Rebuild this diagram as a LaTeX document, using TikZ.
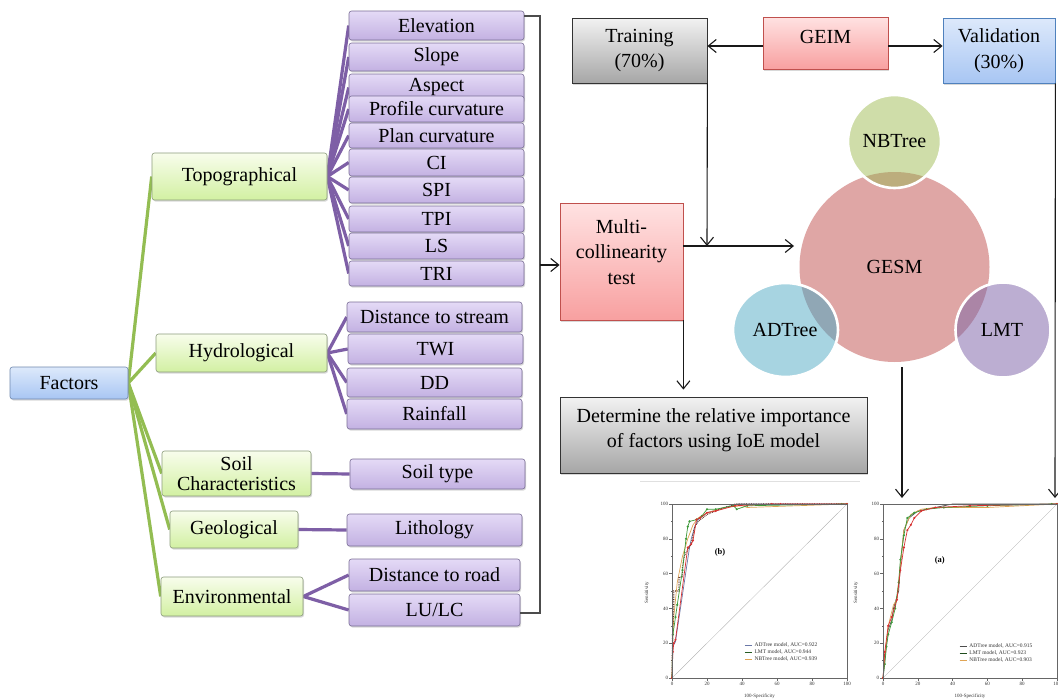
\documentclass[tikz,border=0pt]{standalone}
\usepackage{fontspec}
\setmainfont{Liberation Serif}
\usetikzlibrary{arrows.meta,shadows,calc,shapes.geometric}
\pgfdeclarelayer{bg}
\pgfsetlayers{bg,main}
\definecolor{ptop}{HTML}{E4DAF6}
\definecolor{pbot}{HTML}{C3B1E2}
\definecolor{pbord}{HTML}{7A6E96}
\definecolor{gtop}{HTML}{F8FDEC}
\definecolor{gbot}{HTML}{D2F0A2}
\definecolor{gbord}{HTML}{8C9C7C}
\definecolor{btop}{HTML}{DDE9FB}
\definecolor{bbot}{HTML}{A8C6F3}
\definecolor{bbord}{HTML}{6F88AE}
\definecolor{gline}{HTML}{93BD52}
\definecolor{pline}{HTML}{7E5FA6}
\definecolor{rtop}{HTML}{FFE2E2}
\definecolor{rbot}{HTML}{F8A0A0}
\definecolor{rbord}{HTML}{C0504D}
\definecolor{ktop}{HTML}{F2F2F2}
\definecolor{kbot}{HTML}{A6A6A6}
\definecolor{vbord}{HTML}{4F81BD}
\definecolor{gesmc}{HTML}{DFA6A5}
\definecolor{nbc}{HTML}{CFDDA9}
\definecolor{adc}{HTML}{A7D4E1}
\definecolor{lmtc}{HTML}{BCAED2}
\definecolor{nbov}{HTML}{BCAD7D}
\definecolor{adov}{HTML}{90A7B5}
\definecolor{lmov}{HTML}{AB85A6}
\definecolor{cblue}{HTML}{6A78A8}
\definecolor{cgreen}{HTML}{3E9A3A}
\definecolor{corange}{HTML}{E0A555}
\definecolor{cbrown}{HTML}{5A2A1A}
\definecolor{cred}{HTML}{D83030}
\newcommand{\myfs}{\fontsize{20}{22}\selectfont}
\newcommand{\myfsb}{\fontsize{20}{25.5}\selectfont}
\begin{document}
\begin{tikzpicture}[x=1pt,y=-1pt,
  shad/.style={drop shadow={shadow xshift=1pt, shadow yshift=-1.5pt, opacity=0.3}},
  pbox/.style={rectangle, rounded corners=2.5pt, draw=pbord, line width=0.6pt, top color=ptop, bottom color=pbot, inner sep=0pt, minimum width=175pt, font=\myfs, shad},
  gbox/.style={pbox, draw=gbord, top color=gtop, bottom color=gbot, align=center},
  fbox/.style={pbox, draw=bbord, top color=btop, bottom color=bbot, minimum width=118pt, minimum height=32pt},
  rbox/.style={rectangle, draw=rbord, line width=0.8pt, top color=rtop, bottom color=rbot, inner sep=0pt, shad},
  kbox/.style={rectangle, draw=black!80, line width=0.8pt, top color=ktop, bottom color=kbot, inner sep=0pt, font=\myfsb, align=center, shad},
  vbox/.style={rectangle, draw=vbord, line width=0.8pt, top color=btop, bottom color=bbot, inner sep=0pt, font=\myfsb, align=center, shad},
  gl/.style={gline, line width=3.2pt},
  pl/.style={pline, line width=3.2pt},
  arr/.style={-{Straight Barb[length=8pt,width=13pt]}, line width=1.1pt, draw=black!90},
  brk/.style={line width=1.1pt, draw=black!70},
  frame/.style={draw=black!60, line width=0.6pt},
  cv/.style={line width=0.7pt},
  tick/.style={font=\fontsize{5}{6}\selectfont, inner sep=1pt, text=black!80}
]
\begin{pgfonlayer}{bg}
\fill[white] (0,0) rectangle (1058,699);
\end{pgfonlayer}
\useasboundingbox (0,0) rectangle (1058,699);

% ---------- left tree ----------
\node[fbox] (factors) at (69,383) {Factors};
\node[gbox, minimum width=175pt, minimum height=47pt] (topo) at (239.5,176.5) {Topographical};
\node[gbox, minimum width=171pt, minimum height=38pt] (hydro) at (241.5,353) {Hydrological};
\node[gbox, minimum width=149pt, minimum height=45pt, font=\fontsize{20}{20.5}\selectfont] (soil) at (236.5,473.5) {Soil\\Characteristics};
\node[gbox, minimum width=128pt, minimum height=37pt] (geo) at (234,529.5) {Geological};
\node[gbox, minimum width=142pt, minimum height=39pt] (env) at (232,596.5) {Environmental};

\node[pbox, minimum height=29pt] (elev) at (436.5,25.5) {Elevation};
\node[pbox, minimum height=28pt] (slope) at (436.5,57) {Slope};
\node[pbox, minimum height=27pt] (aspect) at (436.5,87.5) {Aspect};
\node[pbox, minimum height=26pt] (profile) at (436.5,109) {Profile curvature};
\node[pbox, minimum height=25pt] (plan) at (436.5,135.5) {Plan curvature};
\node[pbox, minimum height=27pt] (ci) at (436.5,162.5) {CI};
\node[pbox, minimum height=26pt] (spi) at (436.5,190) {SPI};
\node[pbox, minimum height=26pt] (tpi) at (436.5,219) {TPI};
\node[pbox, minimum height=26pt] (ls) at (436.5,246) {LS};
\node[pbox, minimum height=25pt] (tri) at (436.5,273.5) {TRI};
\node[pbox, minimum height=30pt] (dstream) at (434.5,317) {Distance to stream};
\node[pbox, minimum height=30pt] (twi) at (435.5,349) {TWI};
\node[pbox, minimum height=29pt] (dd) at (434.5,382.5) {DD};
\node[pbox, minimum height=30pt] (rain) at (434.5,414) {Rainfall};
\node[pbox, minimum height=30pt] (soiltype) at (437.5,474) {Soil type};
\node[pbox, minimum height=32pt] (litho) at (434.5,530) {Lithology};
\node[pbox, minimum width=171pt, minimum height=32pt] (droad) at (434.5,575) {Distance to road};
\node[pbox, minimum width=171pt, minimum height=32pt] (lulc) at (434.5,610) {LU/LC};

\begin{pgfonlayer}{bg}
  \foreach \t in {topo,hydro,soil,geo,env} \draw[gl] (factors.east) -- (\t.west);
  \foreach \t in {elev,slope,aspect,profile,plan,ci,spi,tpi,ls,tri} \draw[pl] (topo.east) -- (\t.west);
  \foreach \t in {dstream,twi,dd,rain} \draw[pl] (hydro.east) -- (\t.west);
  \draw[pl] (soil.east) -- (soiltype.west);
  \draw[pl] (geo.east) -- (litho.west);
  \draw[pl] (env.east) -- (droad.west);
  \draw[pl] (env.east) -- (lulc.west);
\end{pgfonlayer}

% ---------- right part ----------
\node[kbox, minimum width=135pt, minimum height=65pt] (training) at (639.5,50.5) {Training\\(70\%)};
\node[rbox, minimum width=125pt, minimum height=52pt] (geim) at (825.5,43) {};
\node[font=\myfs] (geimt) at (825.5,37) {GEIM};
\node[vbox, minimum width=112pt, minimum height=65pt] (valid) at (999,50.5) {Validation\\(30\%)};
\node[rbox, minimum width=123pt, minimum height=117pt] (multi) at (621.5,261.5) {};
\node[font=\myfsb, align=center] (multit) at (621.5,252) {Multi-\\collinearity\\test};
\node[kbox, minimum width=307pt, minimum height=76pt] (det) at (713.5,435) {};
\node[font=\myfsb, align=center] (dett) at (713.5,430) {Determine the relative importance\\of factors using IoE model};

% circles
\fill[gesmc] (894.5,267) circle (95pt);
\fill[nbc] (894.5,141.5) circle (46.5pt);
\fill[adc] (785.5,330) ellipse [x radius=52.5pt, y radius=47pt];
\fill[lmtc] (1003,330) circle (47.5pt);
\begin{scope}\clip (894.5,267) circle (95pt);
  \fill[nbov] (894.5,141.5) circle (46.5pt);
  \fill[adov] (785.5,330) ellipse [x radius=52.5pt, y radius=47pt];
  \fill[lmov] (1003,330) circle (47.5pt);
\end{scope}
\draw[white, line width=2.6pt] (894.5,141.5) circle (46.5pt);
\draw[white, line width=2.6pt] (785.5,330) ellipse [x radius=52.5pt, y radius=47pt];
\draw[white, line width=2.6pt] (1003,330) circle (47.5pt);
\node[circle, minimum size=190pt, inner sep=0pt, font=\myfs] (gesm) at (894.5,267) {GESM};
\node[circle, minimum size=93pt, inner sep=0pt, font=\myfs] (nbt) at (894.5,141) {NBTree};
\node[ellipse, minimum width=105pt, minimum height=94pt, inner sep=0pt, font=\myfs] (adt) at (785,330) {ADTree};
\node[circle, minimum size=95pt, inner sep=0pt, font=\myfs] (lmt) at (1002,330) {LMT};

% connectors
\draw[arr] ([yshift=-3pt]geim.west) -- ([yshift=-3pt]geim.west -| training.east);
\draw[arr] ([yshift=-3pt]geim.east) -- ([yshift=-3pt]geim.east -| valid.west);
\coordinate (junc) at (707,246);
\coordinate (gesmin) at (794,246);
\draw[arr] (training.south east) -- (junc);
\draw[arr] ([yshift=15.5pt]multi.east) -- (gesmin);
\coordinate (btop) at (540,16);
\coordinate (bbot) at (540,613);
\draw[brk] ([yshift=9.5pt]elev.east) -- (btop) -- (bbot) -- ([yshift=-3pt]lulc.east);
\draw[arr] ([yshift=-3.5pt]multi.west -| btop) -- ([yshift=-3.5pt]multi.west);
\draw[arr] (multi.south east) -- ([yshift=7pt]det.north -| multi.south east);
\coordinate (chartAtop) at (902,498);
\draw[arr] ([xshift=7.5pt,yshift=-5pt]gesm.south) -- (chartAtop);
\coordinate (chartAright) at (1055,498);
\draw[arr] (valid.south east) -- (chartAright);

% ---------- chart (b) ----------
\draw[black!12, line width=0.6pt] (640,481) -- (860,481);
\begin{scope}[shift={(672,678)}, x=1.75pt, y=1.74pt]
  \draw[black!35, line width=0.3pt] (0,0) -- (100,100);
  \foreach \v in {10,30,50,70,90} {
    \draw[black!60, line width=0.4pt] (0,\v) -- (-0.8,\v);
    \draw[black!60, line width=0.4pt] (\v,0) -- (\v,-0.8);
  }
  \foreach \v in {0,20,40,60,80,100} {
    \draw[black!60, line width=0.5pt] (0,\v) -- (-1.5,\v) node[tick, left] (bty\v) {\v};
    \draw[black!60, line width=0.5pt] (\v,0) -- (\v,-1.5) node[tick, below] (btx\v) {\v};
  }
  \draw[cv, cblue] (0,0) -- (0.5,18) -- (2,21) -- (10,75) -- (11,80) -- (13,87) -- (15,91) -- (20,95) -- (30,98) -- (38,100) -- (100,100);
  \draw[cv, corange] (0,0) -- (0.3,20) -- (1,35) -- (3,55) -- (6,70) -- (9,80) -- (12,88) -- (15,92) -- (20,95) -- (30,98) -- (40,99) -- (43,98) -- (100,100);
  \draw[cv, cbrown, densely dotted, line width=1.1pt] (0,0) -- (0.3,25) -- (1,42) -- (1,50) -- (4,50) -- (4,58) -- (6,58) -- (6,64) -- (7,70) -- (8,72) -- (11,77) -- (13,87) -- (15,90) -- (20,94) -- (25,96) -- (30,98) -- (34,99) -- (36,100) -- (100,100);
  \draw[cv, cgreen, mark=*, mark size=0.7pt] plot coordinates {(0,0) (0.5,25) (2,35) (3,42) (6,62) (8,80) (9,87) (10,90) (14,91) (17,93) (20,97) (25,97) (35,99) (37,97) (43,99) (97,100) (100,100)};
  \draw[cv, cred, mark=*, mark size=0.7pt] plot coordinates {(0,0) (0.5,15) (1,20) (2,22) (9,75) (11,77) (12,79) (14,91) (16,92) (20,95) (25,96) (36,99) (57,100) (62,100) (100,100)};
  \draw[frame] (0,0) rectangle (100,100);
  \node[rotate=90, tick] (bsens) at (-14.3,49) {Sensitivity};
  \node[tick] (bspec) at (50,-10.5) {100-Specificity};
  \node[font=\fontsize{8.5}{10}\selectfont\bfseries] (blab) at (27.4,72.4) {(b)};
  \draw[cblue, line width=0.6pt] (41.7,19) -- (45.7,19);
  \draw[cgreen!60!black, line width=0.6pt] (41.7,15) -- (45.7,15);
  \draw[corange, line width=0.6pt] (41.7,11) -- (45.7,11);
  \node[tick, anchor=west, font=\fontsize{5.5}{6}\selectfont] (bl1) at (46.5,19) {ADTree model, AUC=0.922};
  \node[tick, anchor=west, font=\fontsize{5.5}{6}\selectfont] (bl2) at (46.5,15) {LMT model, AUC=0.944};
  \node[tick, anchor=west, font=\fontsize{5.5}{6}\selectfont] (bl3) at (46.5,11) {NBTree model, AUC=0.939};
\end{scope}

% ---------- chart (a) ----------
\begin{scope}[shift={(883,678)}, x=1.74pt, y=1.74pt]
  \draw[black!35, line width=0.3pt] (0,0) -- (100,100);
  \foreach \v in {10,30,50,70,90} {
    \draw[black!60, line width=0.4pt] (0,\v) -- (-0.8,\v);
    \draw[black!60, line width=0.4pt] (\v,0) -- (\v,-0.8);
  }
  \foreach \v in {0,20,40,60,80,100} {
    \draw[black!60, line width=0.5pt] (0,\v) -- (-1.5,\v) node[tick, left] (aty\v) {\v};
    \draw[black!60, line width=0.5pt] (\v,0) -- (\v,-1.5) node[tick, below] (atx\v) {\v};
  }
  \draw[cv, black!70] (0,0) -- (1,10) -- (2,20) -- (3,28) -- (5,33) -- (6,40) -- (9,50) -- (10,65) -- (11,75) -- (12,85) -- (15,92) -- (20,96) -- (30,98) -- (40,100) -- (100,100);
  \draw[cv, corange] (0,0) -- (1,12) -- (3,30) -- (6,42) -- (8,45) -- (10,65) -- (12,85) -- (16,94) -- (22,97) -- (30,98) -- (60,98) -- (100,100);
  \draw[cv, cgreen, mark=*, mark size=0.7pt] plot coordinates {(0,0) (1,8) (2,18) (3,25) (5,32) (7,40) (9,55) (10,68) (12,82) (14,92) (18,95) (25,97) (35,98) (60,99) (97,100) (100,100)};
  \draw[cv, cred, mark=*, mark size=0.7pt] plot coordinates {(0,0) (1,15) (3,30) (5,35) (8,45) (10,62) (12,75) (14,85) (16,88) (18,92) (22,96) (30,98) (50,99) (100,100)};
  \draw[frame] (0,0) rectangle (100,100);
  \node[rotate=90, tick] (asens) at (-15.5,49) {Sensitivity};
  \node[tick] (aspec) at (50,-10.5) {100-Specificity};
  \node[font=\fontsize{8.5}{10}\selectfont\bfseries] (alab) at (32.6,67.8) {(a)};
  \draw[black!70, line width=0.6pt] (44,18.4) -- (48.5,18.4);
  \draw[cgreen!50!black, line width=0.6pt] (44,14.4) -- (48.5,14.4);
  \draw[corange, line width=0.6pt] (44,10.3) -- (48.5,10.3);
  \node[tick, anchor=west, font=\fontsize{5.5}{6}\selectfont] (al1) at (49,18.4) {ADTree model, AUC=0.915};
  \node[tick, anchor=west, font=\fontsize{5.5}{6}\selectfont] (al2) at (49,14.4) {LMT model, AUC=0.923};
  \node[tick, anchor=west, font=\fontsize{5.5}{6}\selectfont] (al3) at (49,10.3) {NBTree model, AUC=0.903};
\end{scope}
\end{tikzpicture}
\end{document}
